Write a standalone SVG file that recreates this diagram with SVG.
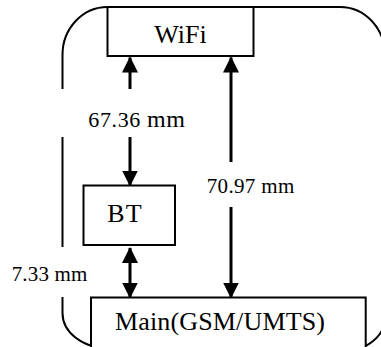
<svg xmlns="http://www.w3.org/2000/svg" width="381" height="347" viewBox="0 0 381 347">
<style>
.box{fill:#fff;stroke:#000;stroke-width:2}
.t{font-family:"Liberation Serif","Times New Roman",serif;fill:#000}
.conn{stroke:#000;stroke-width:3;fill:none}
.outline{stroke:#000;stroke-width:2;fill:none}
</style>
<defs>
<marker id="ah" markerUnits="userSpaceOnUse" markerWidth="16" markerHeight="16" viewBox="0 0 16 16" refX="15" refY="8" orient="auto-start-reverse">
<path d="M0,0 L16,8 L0,16 z" fill="#000"/>
</marker>
</defs>
<path class="outline" d="M62.5,89 L62.5,55 A45,48 0 0 1 107.5,7 L340,7 A45,48 0 0 1 385,55 M385,280 L385,318 A45,34 0 0 1 340,352 M62.5,137 L62.5,247 M62.5,297 L62.5,313 A45,35 0 0 0 107.5,348"/>
<g id="connectors">
<line class="conn" x1="130" y1="89" x2="130" y2="57.5" marker-end="url(#ah)"/>
<line class="conn" x1="130" y1="137" x2="130" y2="185.5" marker-end="url(#ah)"/>
<line class="conn" x1="130" y1="248" x2="130" y2="297.5" marker-start="url(#ah)" marker-end="url(#ah)"/>
<line class="conn" x1="231" y1="162" x2="231" y2="57.5" marker-end="url(#ah)"/>
<line class="conn" x1="231" y1="207" x2="231" y2="297.5" marker-end="url(#ah)"/>
</g>
<g id="wifi">
<rect class="box" x="107.5" y="7" width="146" height="49"/>
<text class="t" x="180.5" y="43.3" font-size="26" text-anchor="middle">WiFi</text>
</g>
<g id="bt">
<rect class="box" x="83.5" y="185.5" width="91.5" height="59.5"/>
<text class="t" x="107.3" y="221.7" font-size="26" textLength="34.4">BT</text>
</g>
<g id="main">
<rect class="box" x="91" y="297.5" width="274.7" height="60"/>
<text class="t" x="115" y="330" font-size="26" textLength="210">Main(GSM/UMTS)</text>
</g>
<g id="labels">
<text class="t" x="88.3" y="126.5" font-size="22" textLength="96.7"><tspan>67.36 </tspan><tspan font-size="24">mm</tspan></text>
<text class="t" x="206.7" y="193.3" font-size="21" textLength="87.6">70.97 mm</text>
<text class="t" x="11.7" y="281" font-size="21" textLength="75.6">7.33 mm</text>
</g>
</svg>
